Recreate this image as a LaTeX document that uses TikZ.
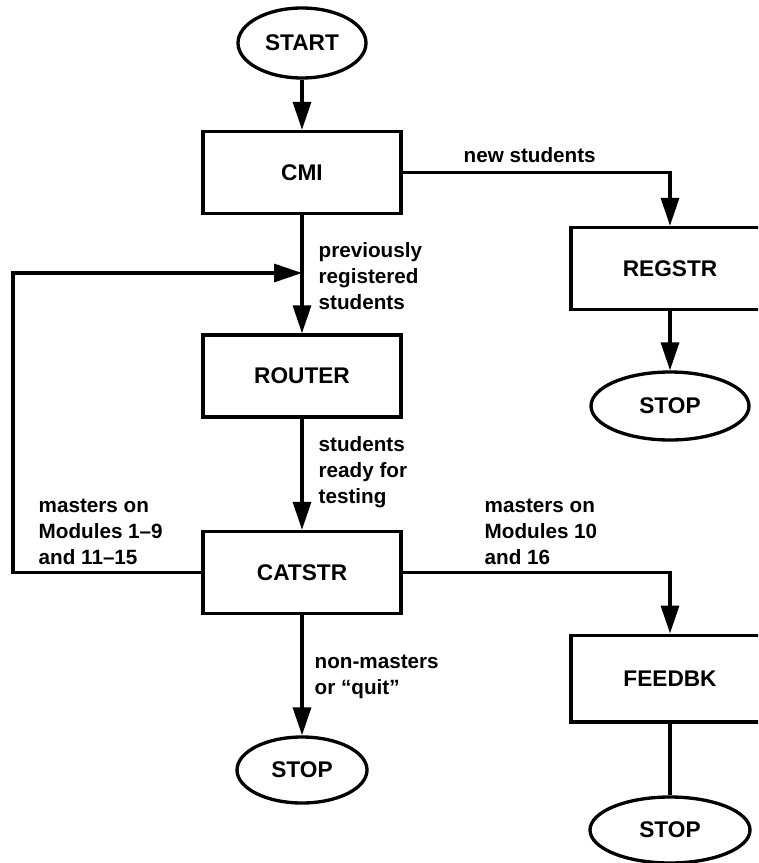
\documentclass[tikz,border=0pt]{standalone}
\usepackage{fontspec}
\setmainfont{Liberation Sans}
\usetikzlibrary{shapes.geometric,arrows.meta}

\tikzset{every picture/.style={line width=2.5pt}}
\tikzset{
  proc/.style={draw, rectangle, inner sep=0pt, minimum width=148.5pt, minimum height=61.5pt,
    font=\fontsize{17}{20}\selectfont\bfseries},
  term/.style={draw, ellipse, inner sep=0pt, font=\fontsize{17}{20}\selectfont\bfseries},
  lbl/.style={anchor=west, align=left, inner sep=0pt, font=\fontsize{15.5}{19.5}\selectfont\bfseries},
  arr/.style={-{Triangle[length=21pt,width=13.5pt]}}
}

\begin{document}
\begin{tikzpicture}[x=0.75pt,y=0.75pt,yscale=-1,xscale=1]
\clip (0,0) rectangle (758,863);

%Flowchart: Terminator
\node [term, minimum width=96pt, minimum height=52.5pt] (start) at (302,43) {START};
%Flowchart: Process
\node [proc] (cmi) at (302,172.5) {CMI};
\node [proc] (router) at (302,376) {ROUTER};
\node [proc] (catstr) at (302,572.5) {CATSTR};
\node [proc] (regstr) at (670,268.5) {REGSTR};
\node [proc, minimum height=65pt] (feedbk) at (670,678.5) {FEEDBK};
%Flowchart: Terminator
\node [term, minimum width=118.5pt, minimum height=51pt] (stopa) at (670,406) {STOP};
\node [term, minimum width=97.5pt, minimum height=49.5pt] (stopb) at (302,770) {STOP};
\node [term, minimum width=120pt, minimum height=49.5pt] (stopc) at (670,830) {STOP};

\coordinate (join) at (302,273);
\coordinate (back) at (13,273);

%Straight Lines
\draw [arr] (start) -- (cmi);
\draw [arr] (cmi.east) -| (regstr.north);
\draw [arr] (cmi) -- (router);
\draw [arr] (regstr) -- (stopa);
\draw [arr] (router) -- (catstr);
\draw [arr] (catstr.west) -| (back) -- (join);
\draw [arr] (catstr.east) -| (feedbk.north);
\draw [arr] (catstr) -- (stopb);
\draw (feedbk) -- (stopc);

% Text Node
\node [lbl] (lnew) at (462,155) {new students};
% Text Node
\node [lbl] (lprev) at (317,276) {previously\\registered\\students};
% Text Node
\node [lbl] (lready) at (317,472) {students\\ready for\\testing};
% Text Node
\node [lbl] (lmastera) at (37,532) {masters on\\Modules 1--9\\and 11--15};
% Text Node
\node [lbl] (lmasterb) at (483,532) {masters on\\Modules 10\\and 16};
% Text Node
\node [lbl] (lnonm) at (313,677) {non-masters\\or ``quit''};
\end{tikzpicture}
\end{document}
